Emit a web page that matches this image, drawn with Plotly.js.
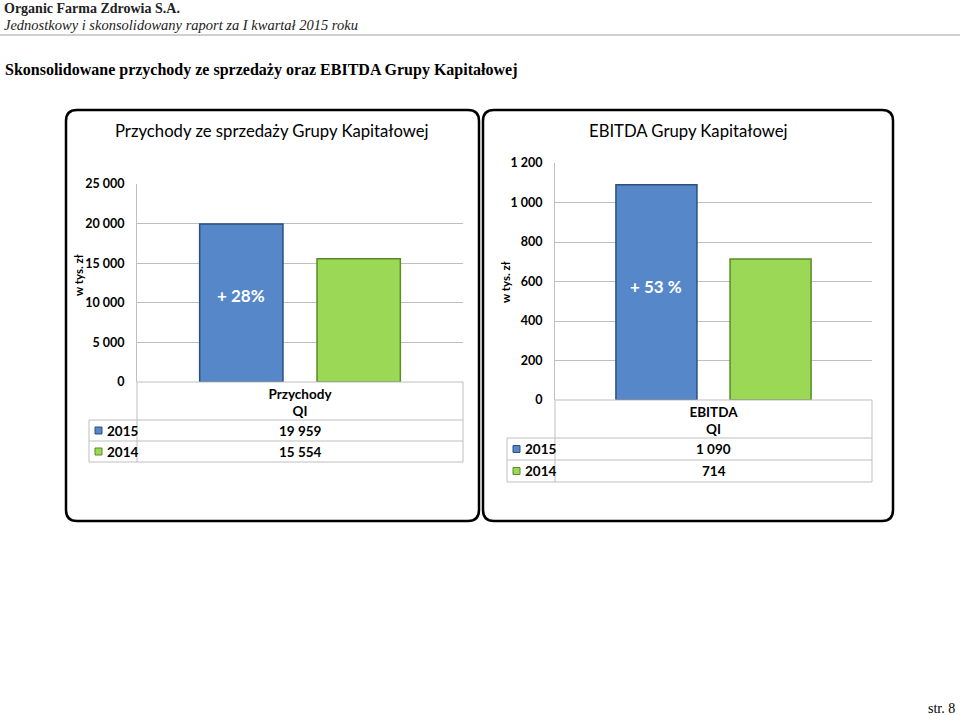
<!DOCTYPE html>
<html>
<head>
<meta charset="utf-8">
<script src="https://cdn.plot.ly/plotly-3.0.1.min.js"></script>
<style>
  html, body { margin: 0; padding: 0; background: #ffffff; }
  #chart { width: 960px; height: 715px; }
</style>
</head>
<body>
<div id="chart"></div>
<script>
// series and categories
const seriesNames = ['2015', '2014'];
const seriesColors = ['#5587c9', '#9bd856'];
const seriesEdges = ['#2c4f7e', '#5b8a27'];

const revenueCategories = ['Przychody<br>QI'];
const revenue2015 = [19959];
const revenue2014 = [15554];
const revenueTicks = [0, 5000, 10000, 15000, 20000, 25000];

const ebitdaCategories = ['EBITDA<br>QI'];
const ebitda2015 = [1090];
const ebitda2014 = [714];
const ebitdaTicks = [0, 200, 400, 600, 800, 1000, 1200];

const changeLabels = ['+ 28%', '+ 53 %'];
const chartTitles = ['Przychody ze sprzedaży Grupy Kapitałowej', 'EBITDA Grupy Kapitałowej'];

const W = 960, H = 715;
const px = x => x / W;
const py = y => 1 - y / H;

const BARGAP = 0.28;
const CHART_FONT = 'Lato, "Open Sans", sans-serif';
const PAGE_FONT = '"Liberation Serif", "DejaVu Serif", serif';

function fmt( v ) {
  return String(v).replace(/\B(?=(\d{3})+(?!\d))/g, ' ');
}

function roundedBox( x0, y0, x1, y1, r ) {
  const p = (x, y) => px(x) + ',' + py(y);
  const path = 'M' + p(x0 + r, y0) + ' L' + p(x1 - r, y0) + ' Q' + p(x1, y0) + ' ' + p(x1, y0 + r) +
    ' L' + p(x1, y1 - r) + ' Q' + p(x1, y1) + ' ' + p(x1 - r, y1) +
    ' L' + p(x0 + r, y1) + ' Q' + p(x0, y1) + ' ' + p(x0, y1 - r) +
    ' L' + p(x0, y0 + r) + ' Q' + p(x0, y0) + ' ' + p(x0 + r, y0) + ' Z';
  return { type: 'path', xref: 'paper', yref: 'paper', path: path,
           line: { color: '#000000', width: 2.5 }, layer: 'below' };
}

function gridLine( x0, y0, x1, y1 ) {
  return { type: 'line', xref: 'paper', yref: 'paper',
           x0: px(x0), y0: py(y0), x1: px(x1), y1: py(y1),
           line: { color: '#bfbfbf', width: 1 } };
}

// data table under a chart: header cell + one row per series
function dataTable( shapes, annotations, left, divider, right, top, headH, rowH, values ) {
  const headBottom = top + headH;
  const bottom = headBottom + rowH * values.length;
  shapes.push( gridLine(divider, top, right, top) );
  shapes.push( gridLine(right, top, right, bottom) );
  shapes.push( gridLine(divider, top, divider, bottom) );
  shapes.push( gridLine(left, headBottom, left, bottom) );
  for( let i = 0; i <= values.length; i++ ) {
    shapes.push( gridLine(left, headBottom + i * rowH, right, headBottom + i * rowH) );
  }
  for( let i = 0; i < values.length; i++ ) {
    const yc = headBottom + (i + 0.5) * rowH;
    shapes.push({ type: 'rect', xref: 'paper', yref: 'paper',
                  x0: px(left + 6), x1: px(left + 13), y0: py(yc - 3.5), y1: py(yc + 3.5),
                  fillcolor: seriesColors[i], line: { color: seriesEdges[i], width: 1 } });
    annotations.push({ xref: 'paper', yref: 'paper', x: px(left + 16), y: py(yc),
                       xanchor: 'left', yanchor: 'middle', showarrow: false,
                       text: '<b>' + seriesNames[i] + '</b>',
                       font: { family: CHART_FONT, size: 13.5, color: '#000000' } });
    annotations.push({ xref: 'paper', yref: 'paper', x: px((divider + right) / 2), y: py(yc),
                       xanchor: 'center', yanchor: 'middle', showarrow: false,
                       text: '<b>' + fmt(values[i]) + '</b>',
                       font: { family: CHART_FONT, size: 13.5, color: '#000000' } });
  }
}

const data = [
  { type: 'bar', x: revenueCategories, y: revenue2015, name: seriesNames[0], xaxis: 'x', yaxis: 'y',
    marker: { color: seriesColors[0], line: { color: seriesEdges[0], width: 1.5 } } },
  { type: 'bar', x: revenueCategories, y: revenue2014, name: seriesNames[1], xaxis: 'x', yaxis: 'y',
    marker: { color: seriesColors[1], line: { color: seriesEdges[1], width: 1.5 } } },
  { type: 'bar', x: ebitdaCategories, y: ebitda2015, name: seriesNames[0], xaxis: 'x2', yaxis: 'y2',
    marker: { color: seriesColors[0], line: { color: seriesEdges[0], width: 1.5 } } },
  { type: 'bar', x: ebitdaCategories, y: ebitda2014, name: seriesNames[1], xaxis: 'x2', yaxis: 'y2',
    marker: { color: seriesColors[1], line: { color: seriesEdges[1], width: 1.5 } } }
];

const tickFont = { family: CHART_FONT, size: 12.5, color: '#000000', weight: 'bold' };
const catFont = { family: CHART_FONT, size: 13.5, color: '#000000', weight: 'bold' };

function valueAxis( domain, ticks, anchor ) {
  return {
    domain: domain, anchor: anchor, range: [0, ticks[ticks.length - 1]],
    tickvals: ticks, tickformat: ',d', tickfont: tickFont,
    showgrid: true, gridcolor: '#bfbfbf', gridwidth: 1,
    showline: true, linecolor: '#bfbfbf', linewidth: 1,
    zeroline: false, ticks: '', ticklabelstandoff: 9, fixedrange: true
  };
}

function categoryAxis( domain, anchor ) {
  return {
    domain: domain, anchor: anchor, type: 'category',
    showgrid: false, zeroline: false, showline: false, ticks: '',
    tickfont: catFont, ticklabelstandoff: 2, fixedrange: true
  };
}

const shapes = [
  { type: 'line', xref: 'paper', yref: 'paper', x0: 0, x1: 1, y0: py(35), y1: py(35),
    line: { color: '#d0d0d0', width: 2 } },
  roundedBox(66, 110, 479, 521, 11),
  roundedBox(483, 110, 893, 521, 11)
];

const annotations = [
  { xref: 'paper', yref: 'paper', x: px(2), y: py(9), xanchor: 'left', yanchor: 'middle', showarrow: false,
    text: '<b>Organic Farma Zdrowia S.A.</b>', font: { family: PAGE_FONT, size: 14, color: '#222222' } },
  { xref: 'paper', yref: 'paper', x: px(2), y: py(25), xanchor: 'left', yanchor: 'middle', showarrow: false,
    text: '<i>Jednostkowy i skonsolidowany raport za I kwartał 2015 roku</i>',
    font: { family: PAGE_FONT, size: 14.5, color: '#222222' } },
  { xref: 'paper', yref: 'paper', x: px(3), y: py(70), xanchor: 'left', yanchor: 'middle', showarrow: false,
    text: '<b>Skonsolidowane przychody ze sprzedaży oraz EBITDA Grupy Kapitałowej</b>',
    font: { family: PAGE_FONT, size: 16, color: '#000000' } },
  { xref: 'paper', yref: 'paper', x: px(957), y: py(708), xanchor: 'right', yanchor: 'middle', showarrow: false,
    text: 'str. 8', font: { family: PAGE_FONT, size: 14, color: '#000000' } },

  { xref: 'paper', yref: 'paper', x: px(272), y: py(131), xanchor: 'center', yanchor: 'middle', showarrow: false,
    text: chartTitles[0], font: { family: CHART_FONT, size: 16.7, color: '#000000' } },
  { xref: 'paper', yref: 'paper', x: px(688), y: py(131), xanchor: 'center', yanchor: 'middle', showarrow: false,
    text: chartTitles[1], font: { family: CHART_FONT, size: 16.7, color: '#000000' } },

  { xref: 'paper', yref: 'paper', x: px(78), y: py(275), xanchor: 'center', yanchor: 'middle', showarrow: false,
    textangle: -90, text: '<b>w tys. zł</b>', font: { family: CHART_FONT, size: 11.5, color: '#000000' } },
  { xref: 'paper', yref: 'paper', x: px(505), y: py(282), xanchor: 'center', yanchor: 'middle', showarrow: false,
    textangle: -90, text: '<b>w tys. zł</b>', font: { family: CHART_FONT, size: 11.5, color: '#000000' } },

  { xref: 'x', yref: 'y', x: -(1 - BARGAP) / 4, y: 10900, xanchor: 'center', yanchor: 'middle', showarrow: false,
    text: '<b>' + changeLabels[0] + '</b>', font: { family: CHART_FONT, size: 17, color: '#ffffff' } },
  { xref: 'x2', yref: 'y2', x: -(1 - BARGAP) / 4, y: 577, xanchor: 'center', yanchor: 'middle', showarrow: false,
    text: '<b>' + changeLabels[1] + '</b>', font: { family: CHART_FONT, size: 17, color: '#ffffff' } }
];

dataTable( shapes, annotations, 89, 137, 463, 382, 38, 21, [revenue2015[0], revenue2014[0]] );
dataTable( shapes, annotations, 507, 555, 872, 400, 38, 22, [ebitda2015[0], ebitda2014[0]] );

const layout = {
  width: W, height: H,
  margin: { l: 0, r: 0, t: 0, b: 0 },
  paper_bgcolor: '#ffffff', plot_bgcolor: 'rgba(0,0,0,0)',
  showlegend: false,
  barmode: 'group', bargap: BARGAP, bargroupgap: 0.29,
  separators: ', ',
  xaxis: categoryAxis( [px(137), px(463)], 'y' ),
  yaxis: valueAxis( [py(382), py(184)], revenueTicks, 'x' ),
  xaxis2: categoryAxis( [px(555), px(872)], 'y2' ),
  yaxis2: valueAxis( [py(400), py(163)], ebitdaTicks, 'x2' ),
  shapes: shapes,
  annotations: annotations
};

Plotly.newPlot( 'chart', data, layout, { staticPlot: true, displayModeBar: false } );
</script>
</body>
</html>
